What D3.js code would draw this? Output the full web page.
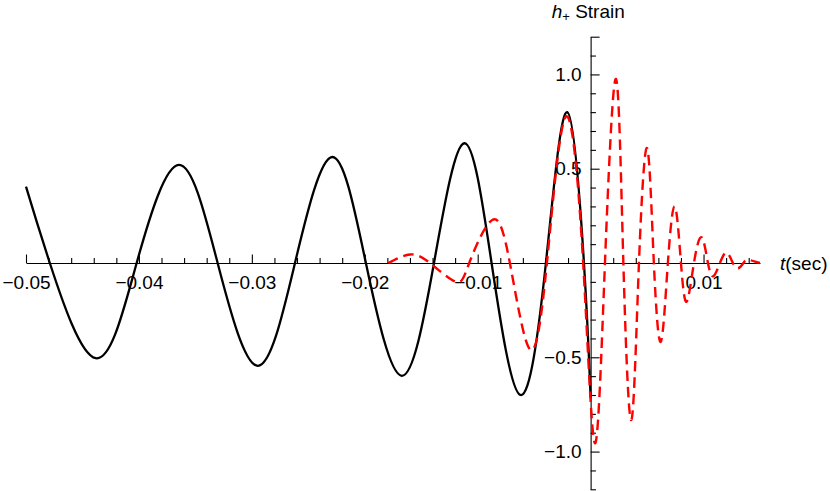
<!DOCTYPE html>
<html>
<head>
<meta charset="utf-8">
<script src="https://cdn.jsdelivr.net/npm/d3@7"></script>
<style>
  body { margin: 0; background: #fff; }
  svg { display: block; }
</style>
</head>
<body>
<svg id="chart"></svg>
<script>
// inspiral (black, solid): time in sec, strain
const inspiralT = [-0.05, -0.04789, -0.04383, -0.0402, -0.03645, -0.03303, -0.02948, -0.02618, -0.02288, -0.0199, -0.01673, -0.01387, -0.01119, -0.00877, -0.0062, -0.00396, -0.00207, -0.00059, 0];
const inspiralH = [0.405, 0, -0.505, 0, 0.52, 0, -0.545, 0, 0.562, 0, -0.598, 0, 0.635, 0, -0.7, 0, 0.8, 0, -0.715];

// merger / ringdown (red, dashed)
const ringT = [-0.01792, -0.016, -0.01423, -0.01193, -0.01075, -0.00871, -0.00715, -0.00537, -0.00387, -0.00219, -0.00066, 0.00038, 0.00127, 0.00224, 0.0029, 0.00361, 0.00428, 0.00501, 0.0056, 0.00622, 0.00684, 0.00746, 0.008, 0.0085, 0.00915, 0.00983, 0.01039, 0.01087, 0.01145, 0.01204, 0.0126, 0.01307, 0.01353, 0.01395, 0.01499];
const ringH = [0, 0.045, 0, -0.1, 0, 0.228, 0, -0.458, 0, 0.776, 0, -0.956, 0, 0.976, 0, -0.832, 0, 0.608, 0, -0.417, 0, 0.299, 0, -0.205, 0, 0.136, 0, -0.07, 0, 0.055, 0, -0.028, 0, 0.016, 0];

const xMajor = [-0.05, -0.04, -0.03, -0.02, -0.01, 0.01];
const xMinor = d3.range(-50, 15, 2).map(d => d / 1000).filter(d => Math.abs(d) > 1e-9 && Math.abs(d * 100 - Math.round(d * 100)) > 1e-6);
const yMajor = [-1.0, -0.5, 0.5, 1.0];
const yMinor = d3.range(-12, 13, 1).map(d => d / 10).filter(d => d !== 0 && Math.abs(d * 2 - Math.round(d * 2)) > 1e-6);

const W = 830, H = 491;
const FONT = "'Liberation Sans', Arial, sans-serif";

const svg = d3.select("#chart").attr("width", W).attr("height", H);

const x = d3.scaleLinear([-0.05, 0.015], [26, 760]);
const y = d3.scaleLinear([-1.2, 1.2], [489.3, 36.7]);

// x axis (ticks point up, labels below)
const gx = svg.append("g").attr("transform", "translate(0," + y(0) + ")");
gx.call(d3.axisBottom(x).tickValues(xMajor).tickSizeInner(-8.5).tickSizeOuter(0)
  .tickPadding(12.8).tickFormat(d3.format(".2f")));
gx.append("g").call(d3.axisBottom(x).tickValues(xMinor).tickSizeInner(-5).tickSizeOuter(0).tickFormat(""))
  .select(".domain").remove();

// y axis (ticks point right, labels left)
const gy = svg.append("g").attr("transform", "translate(" + x(0) + ",0)");
gy.call(d3.axisLeft(y).tickValues(yMajor.concat([1.2])).tickSizeInner(-9).tickSizeOuter(0)
  .tickPadding(9).tickFormat(d => Math.abs(d) > 1.1 ? "" : d3.format(".1f")(d)));
gy.append("g").call(d3.axisLeft(y).tickValues(yMinor.filter(d => d < 1.15)).tickSizeInner(-5.3).tickSizeOuter(0).tickFormat(""))
  .select(".domain").remove();

svg.selectAll(".tick line, .domain").attr("stroke", "#000").attr("stroke-width", 1.1);
svg.selectAll(".tick text").attr("font-family", FONT).attr("font-size", 19).attr("fill", "#000");
gx.attr("font-family", FONT).attr("font-size", 19);
gy.attr("font-family", FONT).attr("font-size", 19);

// curves
const line = d3.line().x(d => x(d[0])).y(d => y(d[1])).curve(d3.curveNatural);

svg.append("path")
  .datum(d3.zip(inspiralT, inspiralH))
  .attr("fill", "none")
  .attr("stroke", "#000")
  .attr("stroke-width", 2.3)
  .attr("d", line);

svg.append("path")
  .datum(d3.zip(ringT, ringH))
  .attr("fill", "none")
  .attr("stroke", "#ff0000")
  .attr("stroke-width", 2.4)
  .attr("stroke-dasharray", "10.5,6")
  .attr("d", line);

// axis labels
const yl = svg.append("text")
  .attr("x", 551.7).attr("y", 18.3)
  .attr("font-family", FONT).attr("font-size", 19).attr("fill", "#000");
yl.append("tspan").attr("font-style", "italic").text("h");
yl.append("tspan").attr("font-size", 13).attr("dy", 3).text("+");
yl.append("tspan").attr("dy", -3).text(" Strain");

const xl = svg.append("text")
  .attr("x", 780).attr("y", 269.5)
  .attr("font-family", FONT).attr("font-size", 19).attr("fill", "#000");
xl.append("tspan").attr("font-style", "italic").text("t");
xl.append("tspan").text("(sec)");
</script>
</body>
</html>
